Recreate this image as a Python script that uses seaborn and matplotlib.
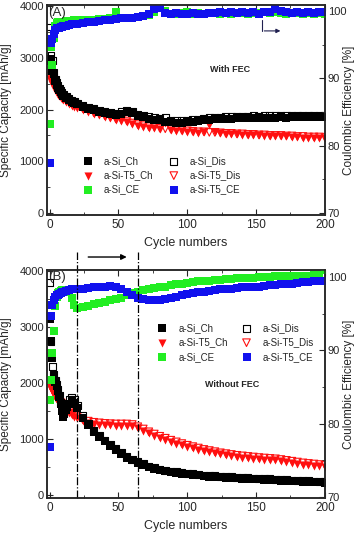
import matplotlib
matplotlib.use("Agg")
import matplotlib.pyplot as plt
import seaborn as sns
from matplotlib.ticker import MultipleLocator

# cycle numbers shared by every series
cycles = [0, 1, 2, 3, 4, 5, 6, 7, 8, 9, 10, 12, 14, 16, 18,
          20, 24, 28, 32, 36, 40, 44, 48, 52, 56,
          60, 64, 68, 72, 76, 80, 84, 88, 92, 96,
          100, 104, 108, 112, 116, 120, 124, 128, 132, 136,
          140, 144, 148, 152, 156, 160, 164, 168, 172, 176,
          180, 184, 188, 192, 196, 200]

# (A) with FEC
a_si_ch = [2980, 2950, 2750, 2700, 2550, 2480, 2420, 2380, 2340, 2300, 2260, 2220, 2180, 2150, 2120,
           2100, 2060, 2020, 1990, 1960, 1940, 1920, 1900, 1920, 1950,
           1930, 1880, 1850, 1820, 1800, 1790, 1770, 1760, 1750, 1750,
           1760, 1770, 1780, 1790, 1800, 1810, 1810, 1820, 1820, 1830,
           1830, 1830, 1840, 1830, 1840, 1840, 1840, 1850, 1840, 1850,
           1850, 1850, 1850, 1850, 1850, 1850]
a_si_dis = [3600, 3050, 2950, 2720, 2580, 2520, 2460, 2420, 2370, 2330, 2290, 2250, 2210, 2180, 2150,
            2130, 2090, 2050, 2020, 1990, 1970, 1950, 1930, 1960, 1980,
            1960, 1910, 1890, 1860, 1840, 1830, 1850, 1800, 1790, 1790,
            1800, 1810, 1820, 1830, 1840, 1850, 1850, 1860, 1860, 1870,
            1870, 1870, 1880, 1870, 1880, 1880, 1880, 1880, 1880, 1890,
            1890, 1890, 1890, 1890, 1890, 1890]
a_t5_ch = [2600, 2550, 2500, 2450, 2380, 2330, 2290, 2260, 2230, 2200, 2180, 2140, 2110, 2080, 2060,
           2040, 2000, 1960, 1920, 1890, 1860, 1830, 1800, 1780, 1760,
           1720, 1690, 1670, 1650, 1640, 1620, 1740, 1600, 1590, 1580,
           1570, 1560, 1550, 1560, 1700, 1560, 1540, 1530, 1520, 1520,
           1510, 1510, 1500, 1500, 1490, 1490, 1480, 1480, 1480, 1470,
           1470, 1460, 1460, 1450, 1450, 1450]
a_t5_dis = [3300, 2650, 2640, 2600, 2450, 2380, 2330, 2300, 2270, 2240, 2210, 2170, 2140, 2110, 2080,
            2060, 2020, 1980, 1940, 1910, 1880, 1850, 1820, 1800, 1780,
            1740, 1710, 1690, 1670, 1660, 1640, 1630, 1620, 1610, 1600,
            1590, 1580, 1570, 1570, 1560, 1560, 1550, 1540, 1540, 1530,
            1530, 1520, 1520, 1510, 1510, 1500, 1500, 1500, 1490, 1490,
            1480, 1480, 1470, 1470, 1470, 1460]
a_si_ce = [83.2, 94.7, 92.0, 96.0, 97.8, 98.2, 98.3, 98.3, 98.4, 98.4, 98.4, 98.5, 98.5, 98.5, 98.6,
           98.6, 98.6, 98.7, 98.7, 98.8, 98.8, 98.9, 99.9, 98.9, 99.0,
           99.0, 99.1, 99.2, 99.4, 99.8, 100.4, 100.0, 99.6, 99.6, 99.7,
           99.8, 99.6, 99.7, 99.6, 99.7, 99.7, 99.6, 99.7, 99.6, 99.7,
           99.7, 99.6, 99.7, 99.7, 99.8, 99.7, 99.8, 99.7, 99.6, 99.7,
           99.7, 99.6, 99.7, 99.6, 99.7, 99.6]
a_t5_ce = [77.4, 95.2, 95.8, 96.6, 97.2, 97.4, 97.5, 97.5, 97.6, 97.6, 97.7, 97.8, 97.9, 98.0, 98.0,
           98.1, 98.2, 98.3, 98.4, 98.5, 98.6, 98.7, 98.8, 98.9, 98.9,
           99.0, 99.1, 99.3, 99.6, 100.3, 100.4, 99.7, 99.6, 99.7, 99.6,
           99.6, 99.7, 99.6, 99.5, 99.7, 99.7, 99.8, 99.7, 99.8, 99.7,
           99.8, 99.7, 99.8, 99.6, 99.8, 99.9, 100.3, 100.0, 99.8, 99.7,
           99.8, 99.7, 99.8, 99.7, 99.8, 99.8]

# (B) without FEC
b_si_ch = [3150, 2750, 2450, 2130, 2020, 1950, 1850, 1750, 1620, 1500, 1400, 1520, 1630, 1680, 1640,
           1560, 1380, 1250, 1130, 1040, 960, 880, 800, 730, 670,
           620, 575, 540, 500, 470, 445, 425, 410, 395, 385,
           370, 360, 350, 340, 330, 325, 318, 312, 305, 300,
           295, 290, 285, 280, 275, 270, 265, 260, 255, 250,
           245, 240, 235, 230, 225, 220]
b_si_dis = [3800, 2750, 2300, 2150, 2050, 1980, 1880, 1780, 1660, 1540, 1450, 1580, 1700, 1740, 1700,
            1600, 1420, 1280, 1160, 1070, 985, 905, 825, 755, 695,
            640, 595, 560, 520, 490, 465, 445, 430, 415, 405,
            390, 380, 370, 360, 350, 345, 338, 332, 325, 320,
            315, 310, 305, 300, 295, 290, 285, 280, 275, 270,
            265, 260, 255, 250, 245, 240]
b_t5_ch = [1950, 1900, 1850, 1800, 1750, 1700, 1680, 1650, 1620, 1600, 1580, 1520, 1470, 1430, 1400,
           1370, 1320, 1290, 1270, 1260, 1250, 1245, 1240, 1240, 1240,
           1230, 1190, 1150, 1100, 1060, 1020, 985, 950, 920, 890,
           860, 835, 810, 785, 765, 745, 725, 710, 695, 680,
           670, 660, 650, 640, 632, 625, 618, 605, 590, 575,
           560, 545, 535, 525, 515, 505]
b_t5_dis = [2520, 1950, 1880, 1830, 1780, 1730, 1710, 1680, 1650, 1630, 1610, 1550, 1500, 1460, 1430,
            1400, 1350, 1320, 1300, 1290, 1280, 1275, 1270, 1270, 1270,
            1260, 1220, 1180, 1130, 1090, 1050, 1015, 980, 950, 920,
            890, 865, 840, 815, 795, 775, 755, 740, 725, 710,
            700, 690, 680, 670, 662, 655, 648, 635, 620, 605,
            590, 575, 565, 555, 545, 535]
b_si_ce = [83.2, 86.0, 89.7, 92.6, 96.0, 97.3, 97.8, 98.0, 98.1, 98.2, 98.2, 98.2, 98.0, 97.2, 96.2,
           95.8, 95.9, 96.1, 96.3, 96.5, 96.6, 96.8, 97.0, 97.2, 97.5,
           97.8, 98.0, 98.2, 98.4, 98.5, 98.6, 98.7, 98.9, 99.0, 99.1,
           99.2, 99.3, 99.4, 99.5, 99.5, 99.6, 99.6, 99.7, 99.7, 99.8,
           99.8, 99.9, 99.9, 100.0, 100.0, 100.0, 100.1, 100.1, 100.1, 100.2,
           100.2, 100.2, 100.2, 100.3, 100.3, 100.9]
b_t5_ce = [76.9, 94.7, 96.2, 96.9, 97.3, 97.5, 97.6, 97.7, 97.8, 97.9, 98.0, 98.1, 98.2, 98.3, 98.3,
           98.4, 98.4, 98.5, 98.6, 98.6, 98.7, 98.8, 98.6, 98.3, 97.9,
           97.5, 97.2, 97.0, 96.8, 96.8, 96.9, 97.0, 97.1, 97.3, 97.5,
           97.7, 97.8, 97.9, 98.0, 98.1, 98.2, 98.3, 98.4, 98.4, 98.5,
           98.6, 98.6, 98.7, 98.7, 98.8, 98.9, 98.9, 99.0, 99.1, 99.1,
           99.2, 99.3, 99.3, 99.4, 99.5, 99.5]

sns.set_style("ticks")
plt.rcParams["font.family"] = ["Liberation Sans", "DejaVu Sans"]
plt.rcParams["xtick.direction"] = "in"
plt.rcParams["ytick.direction"] = "in"
plt.rcParams["axes.linewidth"] = 1.1

GREEN = "#22ee22"
BLUE = "#1111ee"
RED = "#ff1010"


def draw_panel(ax, ch, dis, t5_ch, t5_dis, ce, t5_ce, ylim_l, ylim_r):
    ax2 = ax.twinx()
    sns.scatterplot(x=cycles, y=ch, ax=ax, marker="s", color="black", s=26,
                    linewidth=0, label="a-Si_Ch", legend=False, zorder=3)
    sns.scatterplot(x=cycles, y=dis, ax=ax, marker="s", facecolors="none",
                    edgecolor="black", s=24, linewidth=0.8, label="a-Si_Dis",
                    legend=False, zorder=3)
    sns.scatterplot(x=cycles, y=t5_ch, ax=ax, marker="v", color=RED, s=34,
                    linewidth=0, label="a-Si-T5_Ch", legend=False, zorder=2)
    sns.scatterplot(x=cycles, y=t5_dis, ax=ax, marker="v", facecolors="none",
                    edgecolor=RED, s=30, linewidth=0.8, label="a-Si-T5_Dis",
                    legend=False, zorder=2)
    sns.scatterplot(x=cycles, y=ce, ax=ax2, marker="s", color=GREEN, s=28,
                    linewidth=0, label="a-Si_CE", legend=False)
    sns.scatterplot(x=cycles, y=t5_ce, ax=ax2, marker="s", color=BLUE, s=28,
                    linewidth=0, label="a-Si-T5_CE", legend=False)

    ax.set_xlim(-2, 200)
    ax.set_ylim(*ylim_l)
    ax2.set_ylim(*ylim_r)
    ax.xaxis.set_major_locator(MultipleLocator(50))
    ax.xaxis.set_minor_locator(MultipleLocator(25))
    ax.yaxis.set_major_locator(MultipleLocator(1000))
    ax.yaxis.set_minor_locator(MultipleLocator(500))
    ax2.yaxis.set_major_locator(MultipleLocator(10))
    ax2.yaxis.set_minor_locator(MultipleLocator(5))
    ax.tick_params(axis="x", which="both", top=True, labelsize=8.5, pad=3)
    ax.tick_params(axis="y", which="both", labelsize=8, pad=2)
    ax2.tick_params(axis="y", which="both", labelsize=8, pad=2)
    ax.tick_params(which="major", length=4)
    ax.tick_params(which="minor", length=2)
    ax2.tick_params(which="major", length=4)
    ax2.tick_params(which="minor", length=2)
    for sp in ax2.spines.values():
        sp.set_linewidth(1.1)

    ax.set_xlabel("Cycle numbers", fontsize=9)
    ax.set_ylabel("Specific Capacity [mAh/g]", fontsize=8.5)
    ax2.set_ylabel("Coulombic Efficiency [%]", fontsize=8.5)
    ax.yaxis.set_label_coords(-0.125, 0.5)
    ax2.yaxis.set_label_coords(1.065, 0.5)

    h1, l1 = ax.get_legend_handles_labels()
    h2, l2 = ax2.get_legend_handles_labels()
    handles = dict(zip(l1 + l2, h1 + h2))
    order = ["a-Si_Ch", "a-Si-T5_Ch", "a-Si_CE", "a-Si_Dis", "a-Si-T5_Dis", "a-Si-T5_CE"]
    return ax2, [handles[k] for k in order], order


fig = plt.figure(figsize=(3.61, 5.40), dpi=100)
axA = fig.add_axes([0.130, 0.602, 0.770, 0.389])
axB = fig.add_axes([0.130, 0.078, 0.770, 0.422])

axA2, hA, lA = draw_panel(axA, a_si_ch, a_si_dis, a_t5_ch, a_t5_dis, a_si_ce, a_t5_ce,
                          (-40, 4030), (69.7, 100.9))
axB2, hB, lB = draw_panel(axB, b_si_ch, b_si_dis, b_t5_ch, b_t5_dis, b_si_ce, b_t5_ce,
                          (-50, 4020), (69.9, 100.95))

axA2.legend(hA, lA, ncol=2, frameon=False, fontsize=7, loc="upper left",
            bbox_to_anchor=(0.10, 0.30), handletextpad=0.6, columnspacing=1.1,
            labelspacing=0.45, borderaxespad=0)
axB2.legend(hB, lB, ncol=2, frameon=False, fontsize=7, loc="upper left",
            bbox_to_anchor=(0.365, 0.785), handletextpad=0.7, columnspacing=0.9,
            labelspacing=0.45, borderaxespad=0)

axA2.text(0.005, 0.99, "(A)", transform=axA2.transAxes, fontsize=9.5, va="top", ha="left")
axB2.text(0.005, 0.995, "(B)", transform=axB2.transAxes, fontsize=9.5, va="top", ha="left")
axA2.text(0.66, 0.69, "With FEC", transform=axA2.transAxes, fontsize=6.5, fontweight="bold",
          ha="center", va="center")
axB2.text(0.665, 0.496, "Without FEC", transform=axB2.transAxes, fontsize=6.5, fontweight="bold",
          ha="center", va="center")

# bent arrow pointing at the right axis in (A)
axA2.plot([0.773, 0.773], [0.93, 0.876], transform=axA2.transAxes, color="#202050", lw=0.8)
axA2.annotate("", xy=(0.85, 0.876), xytext=(0.772, 0.876), xycoords="axes fraction",
              arrowprops=dict(arrowstyle="-|>", color="#202050", lw=0.8, mutation_scale=6))

# region markers in (B)
for xv in (19.5, 64):
    axB2.axvline(xv, ymin=0, ymax=1.08, color="black", lw=0.9, ls="-.", clip_on=False)
axB2.annotate("", xy=(58, 1.057), xytext=(26, 1.057),
              xycoords=("data", "axes fraction"),
              arrowprops=dict(arrowstyle="-|>", color="black", lw=1.0, mutation_scale=8),
              annotation_clip=False)

fig.savefig("out.png", dpi=100)
